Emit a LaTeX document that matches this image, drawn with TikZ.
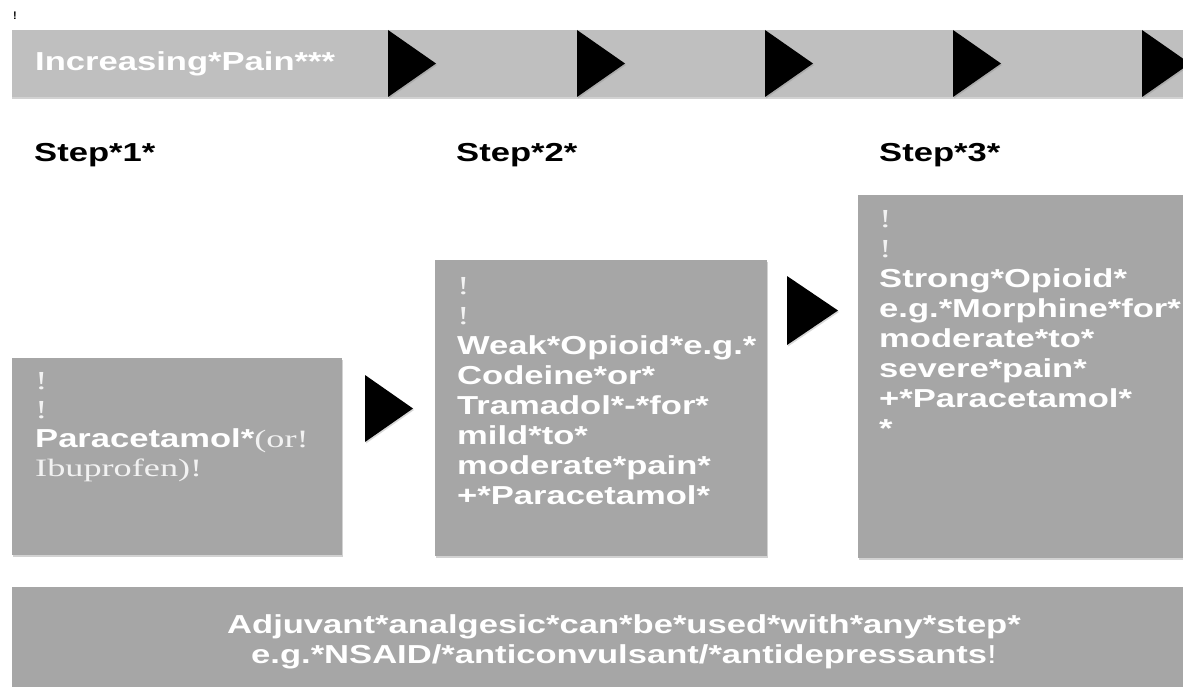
\documentclass[tikz,border=0pt]{standalone}
\usepackage{fontspec}
\setmainfont{Liberation Sans}
\newfontfamily\wsans[FakeStretch=1.33]{Liberation Sans}
\newfontfamily\wserif[FakeStretch=1.45]{Liberation Serif}
\usetikzlibrary{shadows}
\definecolor{bargray}{HTML}{BFBFBF}
\definecolor{boxgray}{HTML}{A6A6A6}
\definecolor{softwhite}{HTML}{F2F2F2}
\tikzset{
  panel/.style={fill=boxgray, draw=none, inner sep=0pt, anchor=north west,
    drop shadow={opacity=0.35, shadow xshift=1pt, shadow yshift=-2pt}},
  barpanel/.style={fill=bargray, draw=none, inner sep=0pt, anchor=north west,
    drop shadow={opacity=0.35, shadow xshift=0pt, shadow yshift=-2pt}},
  tri/.style={fill=black, draw=none,
    drop shadow={opacity=0.3, shadow xshift=1pt, shadow yshift=-1.5pt}},
  boxtext/.style={anchor=north west, inner sep=0pt, align=left, text=white,
    font=\wsans\bfseries\fontsize{26}{30}\selectfont},
  steplabel/.style={anchor=west, inner sep=0pt, text=black,
    font=\wsans\bfseries\fontsize{26}{30}\selectfont},
}
\newcommand{\bang}{{\wserif\mdseries\color{softwhite}!}}
\begin{document}
\begin{tikzpicture}[x=1pt,y=-1pt]
\useasboundingbox (0,0) rectangle (1183,687);
\fill[white] (0,0) rectangle (1183,687);

% small mark top-left
\node[inner sep=0pt, font=\bfseries\fontsize{11}{11}\selectfont] (mark) at (15,16) {!};

% increasing pain bar
\node[barpanel, minimum width=1180pt, minimum height=67pt] (bar) at (12,30) {};
\node[anchor=west, inner sep=0pt, text=white,
  font=\wsans\bfseries\fontsize{26}{30}\selectfont] (bartext) at (35,64) {Increasing*Pain***};
\foreach \x in {388,577,765,953,1142}{
  \path[tri] (\x,30) -- (\x+48,63.5) -- (\x,97) -- cycle;
}

% step labels
\node[steplabel] (s1) at (34,155) {Step*1*};
\node[steplabel] (s2) at (456,155) {Step*2*};
\node[steplabel] (s3) at (879,155) {Step*3*};

% boxes
\node[panel, minimum width=330pt, minimum height=197pt] (b1) at (12,358) {};
\node[panel, minimum width=332pt, minimum height=296pt] (b2) at (435,260) {};
\node[panel, minimum width=340pt, minimum height=363pt] (b3) at (858,195) {};
\node[panel, minimum width=1180pt, minimum height=120pt] (b4) at (12,587) {};

% arrows between boxes
\path[tri] (365,375) -- (413,408.5) -- (365,442) -- cycle;
\path[tri] (787,276) -- (838,310.5) -- (787,345) -- cycle;

% box texts
\node[boxtext, font=\wsans\bfseries\fontsize{26}{29}\selectfont] (t1) at (35,372.5) {%
\bang\\ \bang\\
Paracetamol*{\wserif\mdseries\fontsize{25}{29}\selectfont\color{softwhite}(or!}\\
{\wserif\mdseries\fontsize{25}{29}\selectfont\color{softwhite}Ibuprofen)!}};

\node[boxtext] (t2) at (457,277.5) {%
\bang\\ \bang\\
Weak*Opioid*e.g.*\\
Codeine*or*\\
Tramadol*-*for*\\
mild*to*\\
moderate*pain*\\
+*Paracetamol*};

\node[boxtext] (t3) at (879,210.5) {%
\bang\\ \bang\\
Strong*Opioid*\\
e.g.*Morphine*for*\\
moderate*to*\\
severe*pain*\\
+*Paracetamol*\\
*};

\node[anchor=center, inner sep=0pt, align=center, text=white,
  font=\wsans\bfseries\fontsize{26}{30}\selectfont] (t4) at (624,642) {%
Adjuvant*analgesic*can*be*used*with*any*step*\\
e.g.*NSAID/*anticonvulsant/*antidepressants{\mdseries!}};
\end{tikzpicture}
\end{document}
